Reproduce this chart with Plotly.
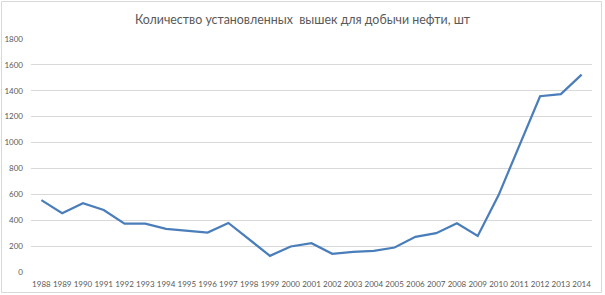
import plotly.graph_objects as go

years = [str(y) for y in range(1988, 2015)]
rigs = [555, 454, 531, 479, 374, 374, 333, 318, 305, 379, 254, 125, 197, 223,
        141, 156, 164, 189, 272, 300, 377, 279, 592, 975, 1358, 1374, 1525]
y_ticks = [0, 200, 400, 600, 800, 1000, 1200, 1400, 1600, 1800]
title_text = "Количество установленных  вышек для добычи нефти, шт"

W, H = 605, 295
L, R, T, B = 31, 13, 39, 23
pw, ph = W - L - R, H - T - B

fig = go.Figure()
fig.add_trace(go.Scatter(x=years, y=rigs, mode="lines",
                         line=dict(color="#4A7EBB", width=2.25)))

fig.update_layout(
    width=W, height=H,
    margin=dict(l=L, r=R, t=T, b=B, autoexpand=False),
    paper_bgcolor="white", plot_bgcolor="white",
    showlegend=False,
    font=dict(family="Lato, Open Sans, sans-serif", color="#595959"),
    title=dict(text=title_text, x=0.5, xanchor="center", y=1 - 20 / H, yanchor="middle",
               font=dict(size=12.4, color="#595959"), automargin=False),
)
fig.add_shape(type="rect", xref="paper", yref="paper",
              x0=-(L - 1.5) / pw, x1=1 + (R - 3.5) / pw,
              y0=-(B - 2.5) / ph, y1=1 + (T - 1.5) / ph,
              line=dict(color="#D9D9D9", width=1))

fig.update_xaxes(type="category", showgrid=False, zeroline=False, showline=False,
                 ticks="", tickfont=dict(size=8, color="#595959"), tickangle=0,
                 range=[-0.5, len(years) - 0.5], ticklabelstandoff=6, automargin=False)
fig.update_yaxes(range=[0, 1800], tickvals=y_ticks, showgrid=True,
                 gridcolor="#D9D9D9", gridwidth=1, zeroline=False, showline=False,
                 ticks="", ticklabelstandoff=7, automargin=False,
                 tickfont=dict(size=8, color="#595959"))

fig.write_html("out.html", config={"displayModeBar": False},
               post_script="document.body.style.margin='0';document.body.style.overflow='hidden';")
